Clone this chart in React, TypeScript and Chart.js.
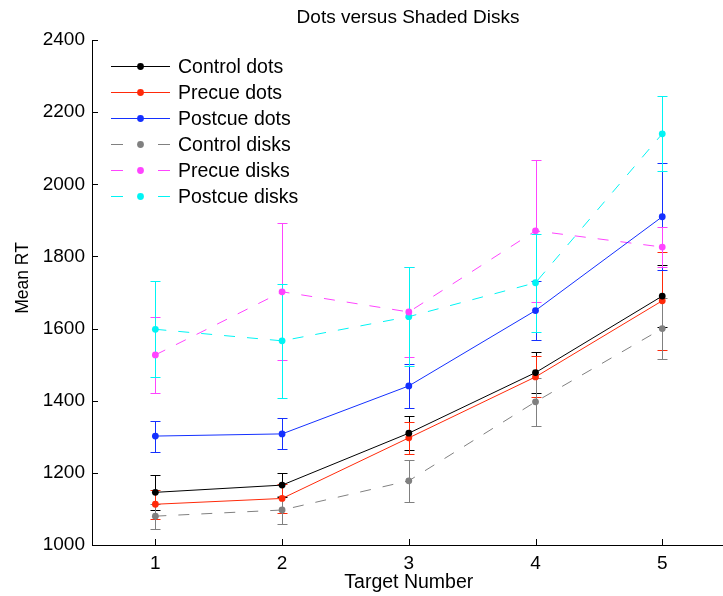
import React, { useEffect, useRef } from 'react';
import { Chart, registerables } from 'chart.js';

Chart.register(...registerables);

const targetNumbers = [1, 2, 3, 4, 5];
const yTickValues = [1000, 1200, 1400, 1600, 1800, 2000, 2200, 2400];

const controlDots = [1146, 1166, 1310, 1478, 1690];
const controlDotsErr = [48, 33, 48, 57, 85];
const precueDots = [1113, 1129, 1297, 1466, 1677];
const precueDotsErr = [40, 39, 44, 57, 136];
const postcueDots = [1302, 1308, 1441, 1650, 1910];
const postcueDotsErr = [43, 43, 61, 83, 148];
const controlDisks = [1080, 1097, 1178, 1397, 1600];
const controlDisksErr = [35, 39, 58, 66, 85];
const precueDisks = [1527, 1702, 1646, 1871, 1826];
const precueDisksErr = [106, 190, 124, 197, 55];
const postcueDisks = [1598, 1566, 1633, 1727, 2140];
const postcueDisksErr = [133, 158, 138, 136, 104];

const seriesLabels = ['Control dots', 'Precue dots', 'Postcue dots', 'Control disks', 'Precue disks', 'Postcue disks'];
const seriesColors = ['#000000', '#ff2a0a', '#1430ff', '#808080', '#ff44ff', '#00f4f4'];
const seriesDashed = [false, false, false, true, true, true];
const seriesValues = [controlDots, precueDots, postcueDots, controlDisks, precueDisks, postcueDisks];
const seriesErrors = [controlDotsErr, precueDotsErr, postcueDotsErr, controlDisksErr, precueDisksErr, postcueDisksErr];

const titleText = 'Dots versus Shaded Disks';
const xTitle = 'Target Number';
const yTitle = 'Mean RT';

const FONT = '"Liberation Sans", Arial, Helvetica, sans-serif';
const DASH = [11, 12];

const errorBarPlugin = {
  id: 'errorBars',
  beforeDatasetsDraw(chart: any) {
    const ctx = chart.ctx;
    const xs = chart.scales.x;
    const ys = chart.scales.y;
    ctx.save();
    seriesValues.forEach((vals, i) => {
      ctx.strokeStyle = seriesColors[i];
      ctx.lineWidth = 1;
      ctx.setLineDash([]);
      vals.forEach((v, j) => {
        const e = seriesErrors[i][j];
        const px = Math.round(xs.getPixelForValue(targetNumbers[j])) + 0.5;
        const yt = Math.round(ys.getPixelForValue(v + e)) + 0.5;
        const yb = Math.round(ys.getPixelForValue(v - e)) + 0.5;
        ctx.beginPath();
        ctx.moveTo(px, yt);
        ctx.lineTo(px, yb);
        ctx.moveTo(px - 5, yt);
        ctx.lineTo(px + 5, yt);
        ctx.moveTo(px - 5, yb);
        ctx.lineTo(px + 5, yb);
        ctx.stroke();
      });
    });
    ctx.restore();
  },
};

const decorPlugin = {
  id: 'decor',
  afterDraw(chart: any) {
    const ctx = chart.ctx;
    const { left, right, top, bottom } = chart.chartArea;
    const xs = chart.scales.x;
    const ys = chart.scales.y;
    ctx.save();
    ctx.strokeStyle = '#000';
    ctx.lineWidth = 1;
    ctx.setLineDash([]);
    ctx.beginPath();
    ctx.moveTo(left + 0.5, top);
    ctx.lineTo(left + 0.5, bottom + 0.5);
    ctx.lineTo(right, bottom + 0.5);
    targetNumbers.forEach((t) => {
      const px = Math.round(xs.getPixelForValue(t)) + 0.5;
      ctx.moveTo(px, bottom);
      ctx.lineTo(px, bottom - 6);
    });
    yTickValues.forEach((t) => {
      const py = Math.round(ys.getPixelForValue(t)) + 0.5;
      ctx.moveTo(left, py);
      ctx.lineTo(left + 6, py);
    });
    ctx.stroke();

    // title
    ctx.fillStyle = '#000';
    ctx.font = `19px ${FONT}`;
    ctx.textAlign = 'center';
    ctx.textBaseline = 'middle';
    ctx.fillText(titleText, 408, 18);

    // y axis title
    ctx.save();
    ctx.translate(23, 278);
    ctx.rotate(-Math.PI / 2);
    ctx.font = `17.5px ${FONT}`;
    ctx.fillText(yTitle, 0, 0);
    ctx.restore();

    // legend
    const lx0 = 111;
    const lx1 = 170;
    const lxm = (lx0 + lx1) / 2;
    ctx.font = `19.5px ${FONT}`;
    ctx.textAlign = 'left';
    seriesLabels.forEach((lab, k) => {
      const y = Math.round(66 + k * 26) + 0.5;
      ctx.strokeStyle = seriesColors[k];
      ctx.fillStyle = seriesColors[k];
      ctx.beginPath();
      if (seriesDashed[k]) {
        ctx.moveTo(lx0, y);
        ctx.lineTo(lx0 + 12, y);
        ctx.moveTo(lx1 - 12, y);
        ctx.lineTo(lx1, y);
      } else {
        ctx.moveTo(lx0, y);
        ctx.lineTo(lx1, y);
      }
      ctx.stroke();
      ctx.beginPath();
      ctx.arc(lxm, y, 3.4, 0, Math.PI * 2);
      ctx.fill();
      ctx.fillStyle = '#000';
      ctx.fillText(lab, 178, y + 1);
    });
    ctx.restore();
  },
};

export default function App() {
  const ref = useRef<HTMLCanvasElement | null>(null);
  useEffect(() => {
    if (!ref.current) return;
    const datasets = seriesValues.map((vals, i) => ({
      label: seriesLabels[i],
      data: targetNumbers.map((x, j) => ({ x, y: vals[j] })),
      borderColor: seriesColors[i],
      backgroundColor: seriesColors[i],
      borderWidth: 1,
      borderDash: seriesDashed[i] ? DASH : [],
      pointRadius: 3.4,
      pointBorderWidth: 0,
      pointBackgroundColor: seriesColors[i],
      pointHoverRadius: 3.4,
      tension: 0,
      fill: false,
      clip: false as any,
    }));
    const chart = new Chart(ref.current, {
      type: 'line',
      data: { datasets },
      plugins: [errorBarPlugin, decorPlugin],
      options: {
        responsive: false,
        animation: false,
        devicePixelRatio: 1,
        layout: { padding: { top: 40, right: 1, left: 0, bottom: 0 } },
        plugins: {
          legend: { display: false },
          title: { display: false },
          tooltip: { enabled: false },
        },
        scales: {
          x: {
            type: 'linear',
            min: 0.5,
            max: 5.5,
            grid: { display: false, drawTicks: false },
            border: { display: false },
            afterBuildTicks: (s: any) => {
              s.ticks = targetNumbers.map((v) => ({ value: v }));
            },
            afterFit: (s: any) => {
              s.height = 51;
            },
            ticks: {
              color: '#000',
              padding: 7,
              font: { family: FONT, size: 19 },
              maxRotation: 0,
              autoSkip: false,
              callback: (v: any) => String(v),
            },
            title: {
              display: true,
              text: xTitle,
              color: '#000',
              font: { family: FONT, size: 19.5 },
              padding: { top: 0, bottom: 2 },
            },
          },
          y: {
            type: 'linear',
            min: 1000,
            max: 2400,
            grid: { display: false, drawTicks: false },
            border: { display: false },
            afterBuildTicks: (s: any) => {
              s.ticks = yTickValues.map((v) => ({ value: v }));
            },
            afterFit: (s: any) => {
              s.width = 92;
            },
            ticks: {
              color: '#000',
              padding: 7,
              font: { family: FONT, size: 19 },
              autoSkip: false,
              callback: (v: any) => String(v),
            },
            title: { display: false },
          },
        },
      },
    });
    return () => chart.destroy();
  }, []);
  return (
    <div style={{ position: 'fixed', left: 0, top: 0, width: 723, height: 596, background: '#fff', overflow: 'hidden' }}>
      <canvas ref={ref} width={729} height={596} style={{ display: 'block', width: 729, height: 596 }} />
    </div>
  );
}
